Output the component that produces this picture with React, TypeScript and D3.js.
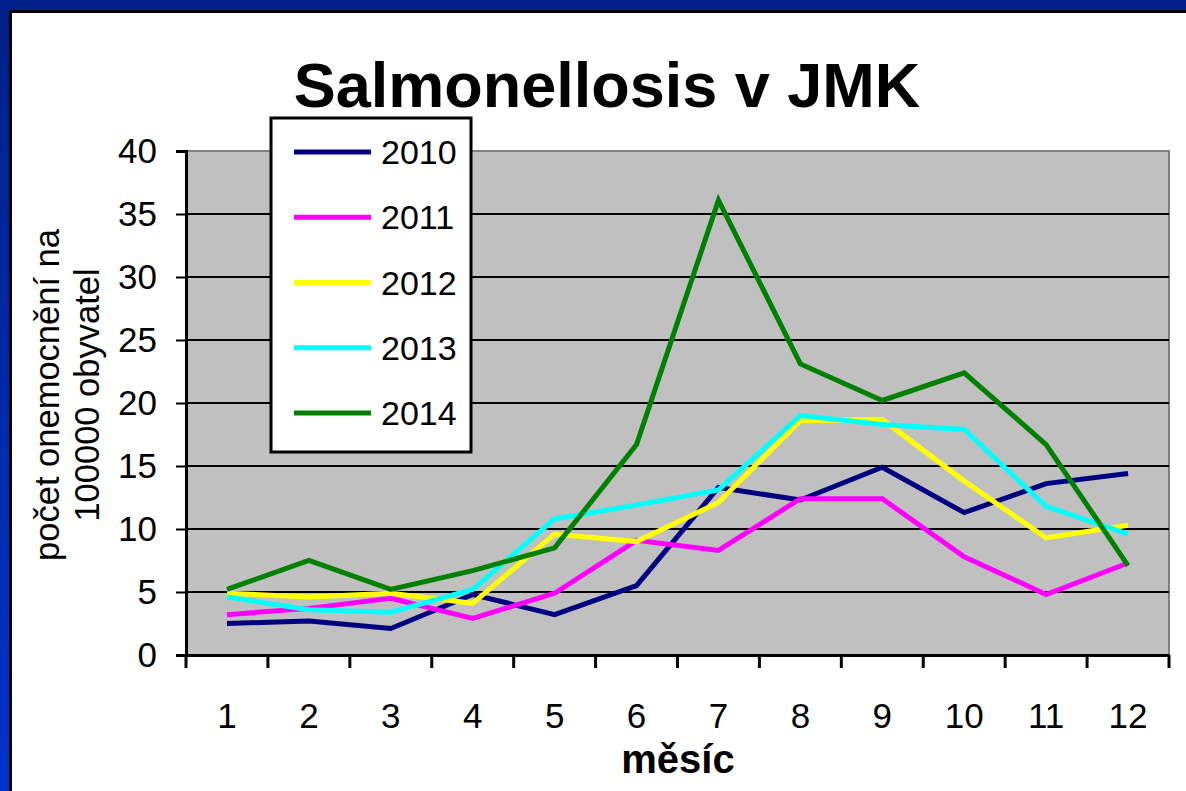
import { useEffect, useRef } from 'react';
import * as d3 from 'd3';

const months = ['1', '2', '3', '4', '5', '6', '7', '8', '9', '10', '11', '12'];
const years = ['2010', '2011', '2012', '2013', '2014'];
const yearColors = ['#000080', '#ff00ff', '#ffff00', '#00ffff', '#008000'];

const values2010 = [2.5, 2.7, 2.1, 4.8, 3.2, 5.5, 13.3, 12.3, 14.9, 11.3, 13.6, 14.4];
const values2011 = [3.2, 3.7, 4.5, 2.9, 4.9, 9.1, 8.3, 12.4, 12.4, 7.8, 4.8, 7.3];
const values2012 = [4.9, 4.6, 4.9, 4.1, 9.6, 9.0, 12.1, 18.6, 18.7, 13.8, 9.3, 10.3];
const values2013 = [4.6, 3.6, 3.4, 5.2, 10.8, 11.9, 13.1, 19.0, 18.3, 17.9, 11.8, 9.6];
const values2014 = [5.2, 7.5, 5.2, 6.7, 8.5, 16.7, 36.1, 23.1, 20.2, 22.4, 16.7, 7.1];
const seriesValues = [values2010, values2011, values2012, values2013, values2014];

const yTicks = [0, 5, 10, 15, 20, 25, 30, 35, 40];

const W = 1186;
const H = 791;
const FONT = '"Liberation Sans", Arial, sans-serif';

const App = () => {
  const svgRef = useRef<SVGSVGElement>(null);

  useEffect(() => {
    if (!svgRef.current) return;
    const svg = d3.select(svgRef.current);
    svg.selectAll('*').remove();

    // slide frame
    const defs = svg.append('defs');
    const grad = defs.append('linearGradient').attr('id', 'frameGrad')
      .attr('x1', 0).attr('y1', 0).attr('x2', 0).attr('y2', 1);
    grad.append('stop').attr('offset', '0%').attr('stop-color', '#001f88');
    grad.append('stop').attr('offset', '100%').attr('stop-color', '#0033cc');

    svg.append('rect').attr('width', W).attr('height', H).attr('fill', 'url(#frameGrad)');
    svg.append('rect').attr('x', 9).attr('y', 10).attr('width', W - 9).attr('height', H - 10).attr('fill', '#000');
    svg.append('rect').attr('x', 12).attr('y', 13).attr('width', W - 12).attr('height', H - 13).attr('fill', '#fff');

    const left = 186, right = 1169, top = 151, bottom = 655;

    const x = d3.scaleBand().domain(months).range([left, right]);
    const y = d3.scaleLinear().domain([0, 40]).range([bottom, top]);

    // plot background
    svg.append('rect')
      .attr('x', left).attr('y', top)
      .attr('width', right - left).attr('height', bottom - top)
      .attr('fill', '#c0c0c0')
      .attr('stroke', '#808080').attr('stroke-width', 2);

    // gridlines
    svg.append('g').selectAll('line')
      .data(yTicks.filter(t => t > 0 && t < 40))
      .enter().append('line')
      .attr('x1', left).attr('x2', right)
      .attr('y1', d => y(d)).attr('y2', d => y(d))
      .attr('stroke', '#000').attr('stroke-width', 2);

    // y axis
    const yAxis = svg.append('g').attr('transform', `translate(${left},0)`)
      .call(d3.axisLeft(y).tickValues(yTicks).tickSize(10).tickPadding(19));
    yAxis.select('.domain').attr('stroke', '#000').attr('stroke-width', 3);
    yAxis.selectAll('.tick line').attr('stroke', '#000').attr('stroke-width', 2);
    yAxis.selectAll('.tick text')
      .attr('fill', '#000')
      .style('font-family', FONT).style('font-size', '35px');

    // x axis
    const xAxis = svg.append('g').attr('transform', `translate(0,${bottom})`)
      .call(d3.axisBottom(x).tickSize(0).tickPadding(48));
    xAxis.select('.domain').attr('stroke', '#000').attr('stroke-width', 3);
    xAxis.selectAll('.tick text')
      .attr('fill', '#000')
      .style('font-family', FONT).style('font-size', '35px');
    // category boundary ticks
    const bounds = months.map(m => x(m) as number).concat([right]);
    svg.append('g').selectAll('line')
      .data(bounds)
      .enter().append('line')
      .attr('x1', d => d).attr('x2', d => d)
      .attr('y1', bottom).attr('y2', bottom + 13)
      .attr('stroke', '#000').attr('stroke-width', 3);

    // lines
    const line = d3.line<number>()
      .x((_, i) => (x(months[i]) as number) + x.bandwidth() / 2)
      .y(d => y(d));

    seriesValues.forEach((vals, i) => {
      svg.append('path')
        .datum(vals)
        .attr('d', line)
        .attr('fill', 'none')
        .attr('stroke', yearColors[i])
        .attr('stroke-width', 5)
        .attr('stroke-linejoin', 'miter');
    });

    // legend
    const legend = svg.append('g');
    legend.append('rect')
      .attr('x', 271).attr('y', 118).attr('width', 200).attr('height', 334)
      .attr('fill', '#fff').attr('stroke', '#000').attr('stroke-width', 3);
    const legendY = d3.scalePoint().domain(years).range([152, 413]);
    years.forEach((yr, i) => {
      const ly = legendY(yr) as number;
      legend.append('line')
        .attr('x1', 294).attr('x2', 371).attr('y1', ly).attr('y2', ly)
        .attr('stroke', yearColors[i]).attr('stroke-width', 5);
      legend.append('text')
        .attr('x', 381).attr('y', ly).attr('dy', '0.36em')
        .style('font-family', FONT).style('font-size', '34px')
        .attr('fill', '#000')
        .text(yr);
    });

    // title
    svg.append('text')
      .attr('x', 607).attr('y', 107)
      .attr('text-anchor', 'middle')
      .style('font-family', FONT).style('font-size', '63px').style('font-weight', 'bold')
      .attr('fill', '#000')
      .text('Salmonellosis v JMK');

    // x title
    svg.append('text')
      .attr('x', 678).attr('y', 773)
      .attr('text-anchor', 'middle')
      .style('font-family', FONT).style('font-size', '40px').style('font-weight', 'bold')
      .attr('fill', '#000')
      .text('měsíc');

    // y title
    const yt = svg.append('text')
      .attr('transform', `translate(0,395) rotate(-90)`)
      .attr('text-anchor', 'middle')
      .style('font-family', FONT).style('font-size', '34.5px')
      .attr('fill', '#000');
    yt.append('tspan').attr('x', 0).attr('y', 59).text('počet onemocnění na');
    yt.append('tspan').attr('x', 0).attr('y', 99).text('100000 obyvatel');
  }, []);

  return (
    <svg
      ref={svgRef}
      width={W}
      height={H}
      style={{ position: 'absolute', left: 0, top: 0, display: 'block' }}
    />
  );
};

export default App;
